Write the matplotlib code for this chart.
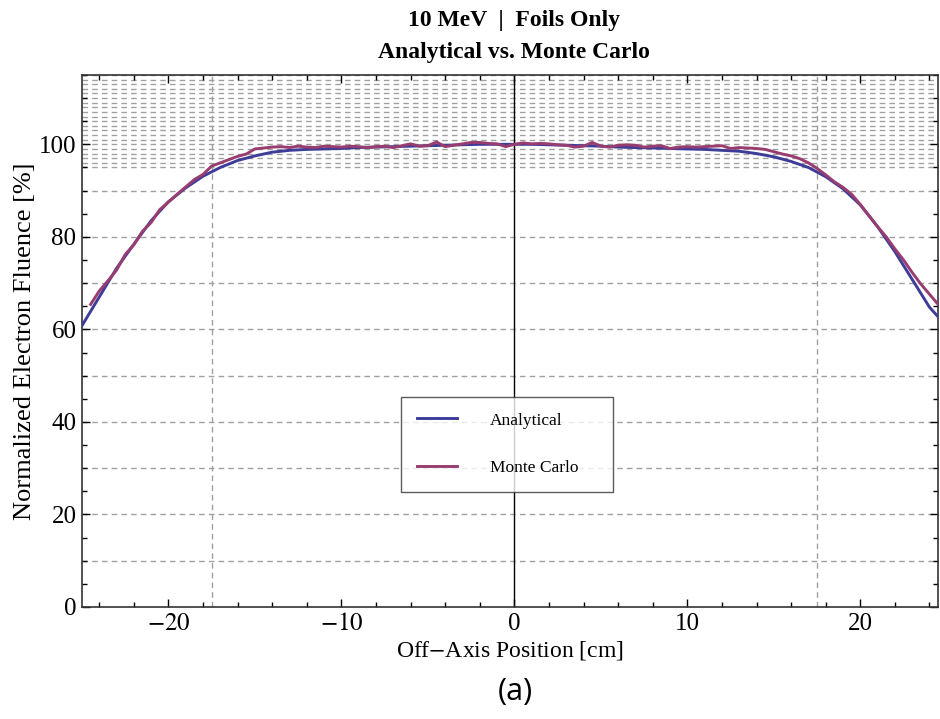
# Analytical vs Monte Carlo electron fluence profile, 10 MeV foils only

import matplotlib
matplotlib.use('Agg')
import matplotlib.pyplot as plt
from matplotlib.ticker import MultipleLocator
import numpy as np

plt.rcParams['font.family'] = ['Liberation Serif', 'DejaVu Serif']
plt.rcParams['mathtext.fontset'] = 'stix'

# analytical curve (1 cm steps)
x_an = [-25, -24, -23, -22, -21, -20, -19, -18, -17, -16, -15, -14, -13, -12, -11,
        -10, -9, -8, -7, -6, -5, -4, -3, -2, -1, 0, 1, 2, 3, 4, 5, 6, 7, 8, 9,
        10, 11, 12, 13, 14, 15, 16, 17, 18, 19, 20, 21, 22, 23, 24, 24.6]
y_an = [60.8, 67.0, 73.2, 78.4, 83.5, 87.6, 90.6, 93.1, 95.0, 96.5, 97.5, 98.3, 98.7, 98.9, 99.0,
        99.1, 99.3, 99.4, 99.5, 99.6, 99.7, 99.8, 99.9, 100.0, 100.0, 100.0, 100.0, 99.9, 99.8, 99.7,
        99.6, 99.4, 99.3, 99.2, 99.1, 99.0, 98.9, 98.7, 98.5, 98.0, 97.3, 96.3, 95.0, 93.0, 90.4,
        86.9, 82.2, 76.8, 70.8, 64.8, 62.3]

# monte carlo (0.5 cm bins, -24.5 .. 24.5)
y_mc = [65.4, 68.3, 70.5, 72.8, 76.2, 78.3, 81.2, 83.1, 85.9, 87.5,
        89.2, 90.8, 92.4, 93.5, 95.3, 96.0, 96.7, 97.4, 97.9, 99.0,
        99.2, 99.4, 99.5, 99.3, 99.6, 99.4, 99.3, 99.6, 99.5, 99.4,
        99.6, 99.5, 99.3, 99.5, 99.6, 99.3, 99.7, 100.1, 99.6, 99.7,
        100.5, 99.5, 99.8, 100.1, 100.4, 100.4, 100.2, 100.1, 99.5,
        100.0,
        100.3, 100.1, 100.2, 100.1, 99.9, 99.8, 99.4, 99.6, 100.4, 99.6,
        99.4, 99.8, 99.9, 99.8, 99.4, 99.6, 99.7, 99.1, 99.4, 99.5,
        99.4, 99.5, 99.6, 99.7, 99.1, 99.3, 99.2, 99.1, 98.9, 98.4,
        97.9, 97.5, 96.9, 96.0, 94.8, 93.4, 91.9, 90.7, 89.2, 87.0,
        84.6, 82.2, 80.0, 77.4, 75.0, 72.3, 69.8, 67.6, 65.4]
x_mc = np.linspace(-24.5, 24.5, len(y_mc))

fig = plt.figure(figsize=(9.4, 7.19), dpi=100)
ax = fig.add_axes([0.0872, 0.1558, 0.9108, 0.74])

# grid lines
grid_kw = dict(color='#a0a0a0', ls=(0, (4, 3)), lw=1.0, zorder=0)
for g in range(10, 100, 10):
    ax.axhline(g, **grid_kw)
for g in range(95, 116):
    ax.axhline(g, **grid_kw)
for g in [-17.5, 17.5]:
    ax.axvline(g, **grid_kw)
ax.axvline(0, color='black', lw=1.0, zorder=1)

ax.plot(x_an, y_an, color='#3d3d99', lw=2.1, label='Analytical', zorder=3)
ax.plot(x_mc, y_mc, color='#993d71', lw=2.1, label='Monte Carlo', zorder=3)

ax.set_xlim(-25, 24.5)
ax.set_ylim(0, 115)
ax.xaxis.set_major_locator(MultipleLocator(10))
ax.xaxis.set_minor_locator(MultipleLocator(2))
ax.yaxis.set_major_locator(MultipleLocator(20))
ax.yaxis.set_minor_locator(MultipleLocator(5))
ax.tick_params(which='both', direction='in', top=True, right=True, labelsize=18, pad=4)
ax.tick_params(which='major', length=6, width=1)
ax.tick_params(which='minor', length=3.5, width=1)
ax.set_xticks([-20, -10, 0, 10, 20])
ax.set_xticklabels(['$-20$', '$-10$', '0', '10', '20'])
for sp in ax.spines.values():
    sp.set_color('#333333')
    sp.set_linewidth(1.2)

ax.set_xlabel('Off$-$Axis Position [cm]', fontsize=17, labelpad=3)
ax.set_ylabel('Normalized Electron Fluence [%]', fontsize=19, labelpad=2)

fig.text(0.547, 0.972, '10 MeV  |  Foils Only', ha='center', va='center',
         fontsize=17, fontweight='bold')
fig.text(0.547, 0.927, 'Analytical vs. Monte Carlo', ha='center', va='center',
         fontsize=17, fontweight='bold')
fig.text(0.548, 0.038, '(a)', ha='center', va='center', fontsize=22,
         family=['Open Sans', 'DejaVu Sans'])

leg = ax.legend(loc='center', bbox_to_anchor=(0.3727, 0.216, 0.248, 0.18),
                mode='expand', fontsize=12.5, frameon=True, fancybox=False,
                handlelength=2.3, handletextpad=1.9, labelspacing=1.8,
                borderpad=0.9, borderaxespad=0)
leg.get_frame().set_edgecolor('#333333')
leg.get_frame().set_linewidth(1.0)

fig.savefig('out.png', dpi=100)
